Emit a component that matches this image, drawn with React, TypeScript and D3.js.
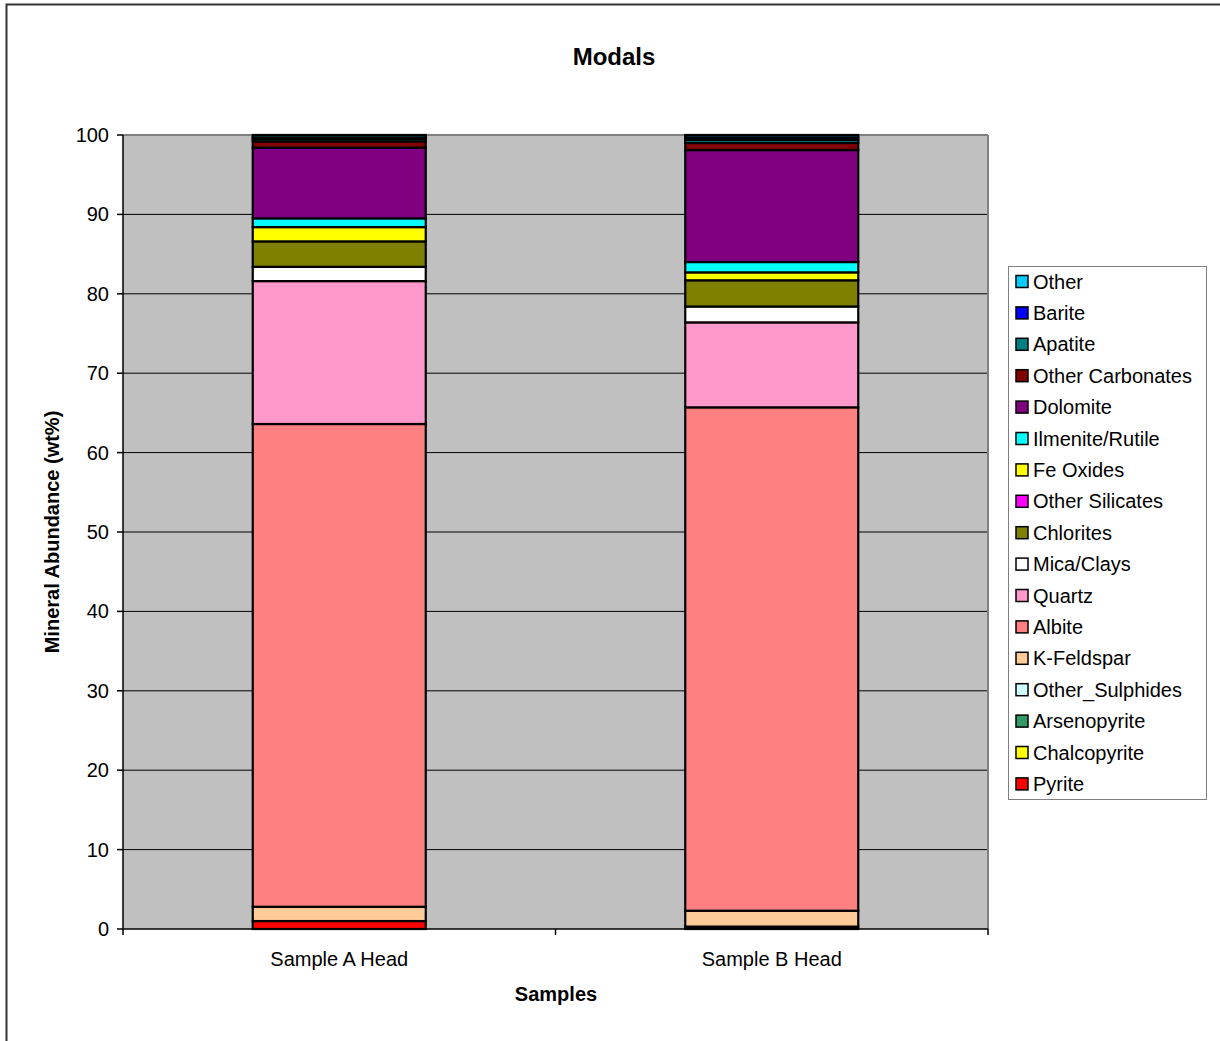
import React from "react";
import * as d3 from "d3";

// Samples along the category axis
const samples = ["Sample A Head", "Sample B Head"];

// Mineral series, stacked from the bottom up
const minerals = [
  "Pyrite",
  "Chalcopyrite",
  "Arsenopyrite",
  "Other_Sulphides",
  "K-Feldspar",
  "Albite",
  "Quartz",
  "Mica/Clays",
  "Chlorites",
  "Other Silicates",
  "Fe Oxides",
  "Ilmenite/Rutile",
  "Dolomite",
  "Other Carbonates",
  "Apatite",
  "Barite",
  "Other",
];

const mineralColors = [
  "#FF0000",
  "#FFFF00",
  "#339966",
  "#CCFFFF",
  "#FFCC99",
  "#FF8080",
  "#FF99CC",
  "#FFFFFF",
  "#808000",
  "#FF00FF",
  "#FFFF00",
  "#00FFFF",
  "#800080",
  "#800000",
  "#008080",
  "#0000FF",
  "#00CCFF",
];

// Mineral abundance (wt%) per sample, same order as `minerals`
const sampleAValues = [1.0, 0, 0, 0, 1.8, 60.8, 18.0, 1.8, 3.2, 0, 1.8, 1.1, 8.9, 0.8, 0.3, 0.2, 0.3];
const sampleBValues = [0.3, 0, 0, 0, 2.0, 63.4, 10.7, 2.0, 3.3, 0, 1.0, 1.3, 14.1, 0.9, 0.4, 0.3, 0.3];

const yTicks = [0, 10, 20, 30, 40, 50, 60, 70, 80, 90, 100];

const FONT = "'Liberation Sans', Arial, sans-serif";

export default function App() {
  const width = 1220;
  const height = 1041;
  const plot = { left: 123, right: 988, top: 135, bottom: 929 };

  const x = d3.scaleBand<string>().domain(samples).range([plot.left, plot.right]).padding(0);
  const y = d3.scaleLinear().domain([0, 100]).range([plot.bottom, plot.top]);
  const barWidth = x.bandwidth() * 0.4;

  const rows = samples.map((s, i) => {
    const vals = i === 0 ? sampleAValues : sampleBValues;
    const row: Record<string, any> = { sample: s };
    minerals.forEach((m, j) => (row[m] = vals[j]));
    return row;
  });
  const stacked = d3.stack<any>().keys(minerals)(rows);

  const legend = { x: 1008, y: 266, w: 198, h: 533 };
  const legendStep = 31.4;
  const legendItems = minerals.map((m, i) => ({ name: m, color: mineralColors[i] })).reverse();

  return (
    <svg
      width={width}
      height={height}
      style={{ position: "absolute", left: 0, top: 0, display: "block", background: "#fff" }}
      fontFamily={FONT}
    >
      {/* chart area frame */}
      <rect x={6.5} y={4.5} width={width + 10} height={height + 10} fill="#fff" stroke="#333" strokeWidth={2} />

      <text x={614} y={65} textAnchor="middle" fontSize={24} fontWeight="bold">
        Modals
      </text>

      {/* plot area */}
      <rect x={plot.left} y={plot.top} width={plot.right - plot.left} height={plot.bottom - plot.top} fill="#C0C0C0" />
      {yTicks.slice(1).map((t) => (
        <line key={t} x1={plot.left} x2={plot.right} y1={y(t)} y2={y(t)} stroke="#000" strokeWidth={1} />
      ))}
      <line x1={plot.left} x2={plot.right} y1={plot.top} y2={plot.top} stroke="#808080" strokeWidth={2} />
      <line x1={plot.right} x2={plot.right} y1={plot.top} y2={plot.bottom} stroke="#808080" strokeWidth={2} />

      {/* stacked bars */}
      {stacked.map((layer, li) => (
        <g key={minerals[li]}>
          {layer.map((d, di) => {
            const xc = (x(samples[di]) as number) + x.bandwidth() / 2;
            return (
              <rect
                key={samples[di]}
                x={xc - barWidth / 2}
                y={y(d[1])}
                width={barWidth}
                height={y(d[0]) - y(d[1])}
                fill={mineralColors[li]}
                stroke="#000"
                strokeWidth={2.2}
              />
            );
          })}
        </g>
      ))}

      {/* y axis */}
      <line x1={plot.left} x2={plot.left} y1={plot.top} y2={plot.bottom} stroke="#000" strokeWidth={1.5} />
      {yTicks.map((t) => (
        <g key={t}>
          <line x1={plot.left - 6} x2={plot.left} y1={y(t)} y2={y(t)} stroke="#000" strokeWidth={1.5} />
          <text x={plot.left - 14} y={y(t) + 7} textAnchor="end" fontSize={20}>
            {t}
          </text>
        </g>
      ))}

      {/* x axis */}
      <line x1={plot.left} x2={plot.right} y1={plot.bottom} y2={plot.bottom} stroke="#000" strokeWidth={1.5} />
      {[plot.left, ...samples.map((s) => (x(s) as number) + x.bandwidth())].map((px, i) => (
        <line key={i} x1={px} x2={px} y1={plot.bottom} y2={plot.bottom + 6} stroke="#000" strokeWidth={1.5} />
      ))}
      {samples.map((s) => (
        <text key={s} x={(x(s) as number) + x.bandwidth() / 2} y={966} textAnchor="middle" fontSize={20}>
          {s}
        </text>
      ))}

      <text x={556} y={1001} textAnchor="middle" fontSize={20} fontWeight="bold">
        Samples
      </text>
      <text
        transform={`translate(59, ${(plot.top + plot.bottom) / 2}) rotate(-90)`}
        textAnchor="middle"
        fontSize={20}
        fontWeight="bold"
      >
        Mineral Abundance (wt%)
      </text>

      {/* legend */}
      <rect x={legend.x + 0.5} y={legend.y + 0.5} width={legend.w} height={legend.h} fill="#fff" stroke="#808080" strokeWidth={1} />
      {legendItems.map((item, i) => {
        const cy = 281.5 + i * legendStep;
        return (
          <g key={item.name}>
            <rect x={1016} y={cy - 6} width={12} height={12} fill={item.color} stroke="#000" strokeWidth={1.5} />
            <text x={1033} y={cy + 7} fontSize={20}>
              {item.name}
            </text>
          </g>
        );
      })}
    </svg>
  );
}
